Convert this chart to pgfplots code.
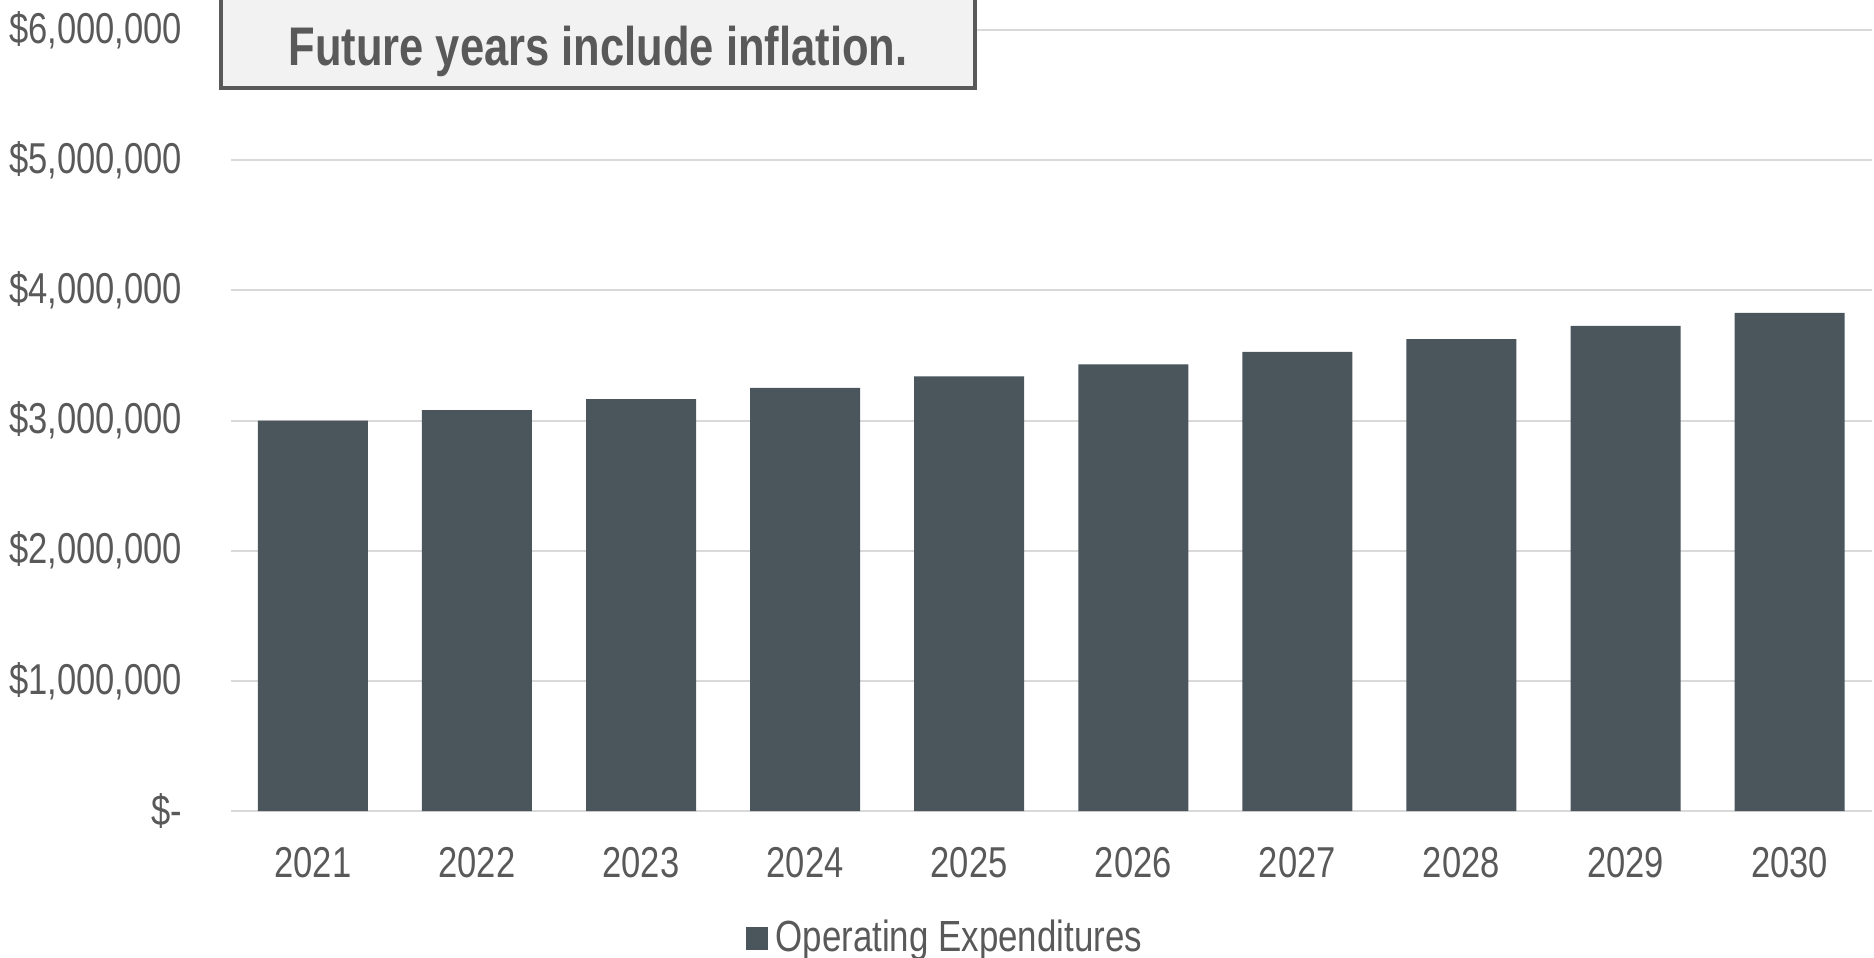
\documentclass[border=0pt]{standalone}
\usepackage{fontspec}
\setmainfont{Liberation Sans}[FakeStretch=0.8]
\usepackage{pgfplots}
\pgfplotsset{compat=1.18}
\definecolor{barc}{HTML}{4A555C}
\definecolor{txt}{HTML}{595959}
\definecolor{gridc}{HTML}{D9D9D9}
\definecolor{boxfill}{HTML}{F2F2F2}
\begin{document}
\begin{tikzpicture}
\useasboundingbox (0,0) rectangle (468.5pt,239.25pt);
\begin{axis}[
  at={(57.7pt,36.5pt)}, anchor=south west,
  scale only axis, width=410.2pt, height=195.25pt,
  xmin=-0.5, xmax=9.5, ymin=0, ymax=6000000,
  ybar, bar width=27.5pt,
  axis line style={draw=none}, tick style={draw=none},
  ymajorgrids, major grid style={gridc, line width=0.5pt},
  scaled y ticks=false,
  /pgf/number format/assume math mode=true,
  ytick={0,1000000,2000000,3000000,4000000,5000000,6000000},
  yticklabels={{\$-},{\$1,000,000},{\$2,000,000},{\$3,000,000},{\$4,000,000},{\$5,000,000},{\$6,000,000}},
  xtick={0,1,2,3,4,5,6,7,8,9},
  xticklabels={2021,2022,2023,2024,2025,2026,2027,2028,2029,2030},
  ticklabel style={font=\fontsize{10.8pt}{12pt}\selectfont, text=txt},
  yticklabel style={anchor=east, inner sep=0pt, xshift=-12pt},
  xticklabel style={anchor=center, inner sep=0pt, yshift=-8.6pt},
  legend style={at={(0.437,-0.163)}, anchor=center, draw=none, fill=none,
    font=\fontsize{10.9pt}{12pt}\selectfont, text=txt, inner sep=0pt},
  legend image code/.code={\fill[#1] (0pt,-2.9pt) rectangle (5.5pt,2.9pt);},
]
\addplot[fill=barc, draw=none] coordinates {
  (0,3000000) (1,3080000) (2,3165000) (3,3250000) (4,3340000)
  (5,3432000) (6,3527000) (7,3625000) (8,3727000) (9,3827000)};
\legend{Operating Expenditures}
\end{axis}
\draw[txt, line width=0.9pt, fill=boxfill] (55.25pt,217.25pt) rectangle (243.75pt,252pt);
\node[text=txt, font=\bfseries\fontsize{13.6pt}{16pt}\selectfont, inner sep=0pt] at (149.5pt,226.4pt) {Future years include inflation.};
\end{tikzpicture}
\end{document}
